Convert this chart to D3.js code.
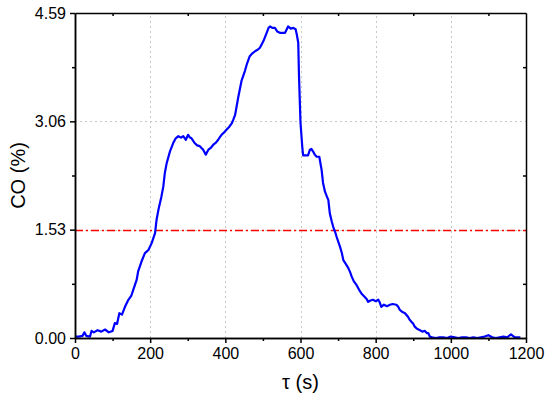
<!DOCTYPE html>
<html><head><meta charset="utf-8">
<script src="https://cdn.jsdelivr.net/npm/d3@7"></script>
<style>body{margin:0;background:#fff}svg{display:block}text{font-family:"Liberation Sans",Arial,sans-serif}</style>
</head><body><div id="c"></div>
<script>
const times = [0,10,20,25,30,40,44,50,60,70,80,90,100,106,112,118,125,133,142,150,
155,164,168,177,186,195,204,213,217,222,230,235,239,244,253,261,268,275,282,288,
295,301,306,310,315,319,325,332,337,341,348,352,355,362,368,375,381,386,390,396,
403,410,417,421,426,434,443,452,458,465,472,479,486,492,501,510,515,519,525,532,
538,545,552,559,567,574,581,587,590,594,596,600,605,607,613,620,625,629,634,638,
643,650,656,660,665,670,674,678,683,687,692,696,705,710,714,720,727,732,736,742,
749,756,762,771,776,780,786,793,800,807,811,815,822,830,838,845,855,860,864,870,
878,886,890,895,900,904,910,918,924,931,936,940,944,950,960,970,980,990,1000,1010,
1020,1030,1040,1050,1060,1070,1080,1090,1100,1110,1120,1130,1140,1150,1160,1170,1185];
const co = [0.02,0.02,0.03,0.08,0.03,0.02,0.10,0.08,0.11,0.09,0.12,0.08,0.10,0.21,0.20,0.35,0.33,0.44,0.54,0.60,
0.68,0.82,0.94,1.08,1.20,1.24,1.34,1.48,1.67,1.81,2.00,2.14,2.33,2.47,2.64,2.75,2.82,2.85,2.83,2.85,
2.80,2.87,2.83,2.82,2.78,2.75,2.72,2.71,2.68,2.66,2.59,2.63,2.66,2.69,2.73,2.76,2.80,2.84,2.87,2.90,
2.94,2.98,3.03,3.08,3.15,3.39,3.63,3.77,3.88,3.98,4.02,4.05,4.07,4.10,4.19,4.31,4.38,4.40,4.38,4.38,
4.33,4.31,4.31,4.31,4.40,4.37,4.38,4.36,4.29,4.17,3.70,3.04,2.68,2.58,2.58,2.58,2.66,2.67,2.63,2.59,
2.56,2.56,2.38,2.19,2.07,2.00,1.95,1.76,1.65,1.57,1.50,1.43,1.29,1.20,1.10,1.05,0.99,0.93,0.87,0.80,
0.75,0.68,0.63,0.58,0.55,0.51,0.53,0.54,0.52,0.54,0.50,0.44,0.47,0.45,0.47,0.48,0.47,0.44,0.40,0.37,
0.35,0.30,0.26,0.23,0.20,0.16,0.13,0.11,0.09,0.10,0.07,0.07,0.02,0.01,0.00,0.01,0.01,0.00,0.02,0.01,
0.00,0.01,0.01,0.00,0.01,0.00,0.01,0.02,0.04,0.01,0.00,0.01,0.02,0.01,0.05,0.01,0.01];
const xTicks = [0,200,400,600,800,1000,1200];
const xMinor = [100,300,500,700,900,1100];
const yTicks = [0.00,1.53,3.06,4.59];
const yMinor = [0.765,2.295,3.825];
const threshold = 1.53;

const W=550,H=401,m={l:75,r:24,t:13,b:63};
const svg=d3.select("#c").append("svg").attr("width",W).attr("height",H);
const x=d3.scaleLinear().domain([0,1200]).range([m.l,W-m.r]);
const y=d3.scaleLinear().domain([0,4.59]).range([H-m.b,m.t]);
const grid="#c8c8c8";
svg.append("g").selectAll("line").data(xTicks.slice(1,-1)).join("line")
 .attr("x1",d=>Math.round(x(d))+0.5).attr("x2",d=>Math.round(x(d))+0.5).attr("y1",y(0)).attr("y2",y(4.59))
 .attr("stroke",grid).attr("stroke-dasharray","2,3");
svg.append("g").selectAll("line").data(yTicks.slice(1,-1)).join("line")
 .attr("x1",x(0)).attr("x2",x(1200)).attr("y1",d=>Math.round(y(d))+0.5).attr("y2",d=>Math.round(y(d))+0.5)
 .attr("stroke",grid).attr("stroke-dasharray","2,3");
svg.append("line").attr("x1",x(0)).attr("x2",x(1200))
 .attr("y1",Math.round(y(threshold))+0.5).attr("y2",Math.round(y(threshold))+0.5)
 .attr("stroke","#ff0000").attr("stroke-width",1.5).attr("stroke-dasharray","8,3,2,3");
const data=times.map((t,i)=>[t,co[i]]);
svg.append("path").datum(data).attr("fill","none").attr("stroke","#0000ff").attr("stroke-width",2.2)
 .attr("stroke-linejoin","round")
 .attr("d",d3.line().x(d=>x(d[0])).y(d=>y(d[1])));
const fmt=d3.format(".2f");
const bx=svg.append("g").attr("transform",`translate(0,${y(0)})`)
 .call(d3.axisBottom(x).tickValues(xTicks).tickFormat(d3.format("d")).tickSize(5).tickSizeOuter(0).tickPadding(5));
const bxm=svg.append("g").attr("transform",`translate(0,${y(0)})`)
 .call(d3.axisBottom(x).tickValues(xMinor).tickSize(3).tickFormat("").tickSizeOuter(0));
const ly=svg.append("g").attr("transform",`translate(${x(0)},0)`)
 .call(d3.axisLeft(y).tickValues(yTicks).tickFormat(fmt).tickSize(5).tickSizeOuter(0).tickPadding(4));
const lym=svg.append("g").attr("transform",`translate(${x(0)},0)`)
 .call(d3.axisLeft(y).tickValues(yMinor).tickFormat("").tickSize(3).tickSizeOuter(0));
const tx=svg.append("g").attr("transform",`translate(0,${y(4.59)})`)
 .call(d3.axisBottom(x).tickValues(xMinor).tickFormat("").tickSize(3).tickSizeOuter(0));
const ry=svg.append("g").attr("transform",`translate(${x(1200)},0)`)
 .call(d3.axisLeft(y).tickValues(yMinor).tickFormat("").tickSize(3).tickSizeOuter(0));
[bx,bxm,ly,lym,tx,ry].forEach(g=>{
 g.select(".domain").attr("stroke","#000").attr("stroke-width",1.5);
 g.selectAll(".tick line").attr("stroke","#000").attr("stroke-width",1.5);
 g.selectAll("text").attr("font-size",16).attr("fill","#000").style("font-family","'Liberation Sans', Arial, sans-serif");
});
svg.append("text").attr("x",(x(0)+x(1200))/2).attr("y",389).attr("text-anchor","middle")
 .attr("font-size",20).text("τ (s)");
svg.append("text").attr("transform",`translate(25,${(y(0)+y(4.59))/2}) rotate(-90)`)
 .attr("text-anchor","middle").attr("font-size",20).text("CO (%)");
</script></body></html>
